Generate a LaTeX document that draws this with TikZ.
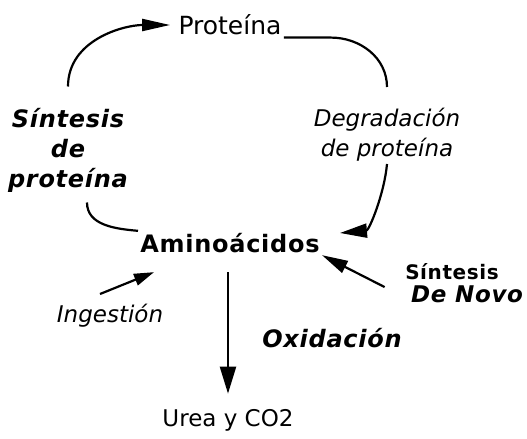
\documentclass[tikz,border=0pt]{standalone}
\usepackage{fontspec}
\setmainfont{DejaVu Sans}
\newfontfamily\spaced[LetterSpace=3]{DejaVu Sans}
\usetikzlibrary{arrows.meta}

\begin{document}
\begin{tikzpicture}[x=0.5pt,y=-0.5pt,
    plain/.style={%
      inner sep=1pt,
      align=center,
      font=\fontsize{11.5}{15}\selectfont,
    },
    strong/.style={plain, font=\fontsize{12}{15}\selectfont\spaced\bfseries},
    slant/.style={plain, font=\fontsize{11.5}{15}\selectfont\itshape},
    slantbold/.style={plain, font=\fontsize{12}{15}\selectfont\spaced\bfseries\itshape},
    link/.style={line width=1.1pt},
  ]
    \useasboundingbox (0,0) rectangle (527,439);

    \node [plain, font=\fontsize{12.5}{15}\selectfont] (prot) at (230,25) {Proteína};
    \node [slantbold] (sint) at (68,150) {Síntesis\\de\\proteína};
    \node [slant] (degr) at (387,135) {Degradación\\de proteína};
    \node [strong] (amino) at (230,243) {Aminoácidos};
    \node [slant] (ingest) at (110,316) {Ingestión};
    \node [plain] (urea) at (228,420) {Urea y CO2};
    \node [strong, font=\fontsize{10}{12}\selectfont\spaced\bfseries] (sint2) at (452,272) {Síntesis};
    \node [slantbold, font=\fontsize{11.5}{15}\selectfont\spaced\bfseries\itshape] (novo) at (467,294) {De Novo};
    \node [slantbold] (oxid) at (332,338) {Oxidación};

    \draw [link, -{Triangle[length=14pt,width=6pt]}] ([yshift=9.5pt]sint.north) to[out=90,in=180] ([xshift=-3pt]prot.west);
    \draw [link] (prot.south east) -- ++(47,0) to[out=0,in=90] ([yshift=9.5pt]degr.north);
    \draw [link, -{Triangle[length=13.5pt,width=7pt]}] (degr.south) to[out=-95,in=5,looseness=0.9] ([xshift=9pt,yshift=5pt]amino.east);
    \draw [link] ([xshift=9.5pt,yshift=-4pt]sint.south) to[out=-90,in=175] (amino.north west);
    \draw [link, -{Triangle[length=10pt,width=6pt]}] ([xshift=-5pt,yshift=4pt]ingest.north) -- ([xshift=8pt,yshift=-8.5pt]amino.south west);
    \draw [link, -{Triangle[length=13.5pt,width=8pt]}, shorten <=8.5pt, shorten >=6.5pt] (urea.north |- amino.south) -- (urea.north);
    \draw [link, -{Triangle[length=13pt,width=6.5pt]}] ([xshift=-12pt,yshift=-2pt]novo.north west) -- (amino.south east);
\end{tikzpicture}
\end{document}
